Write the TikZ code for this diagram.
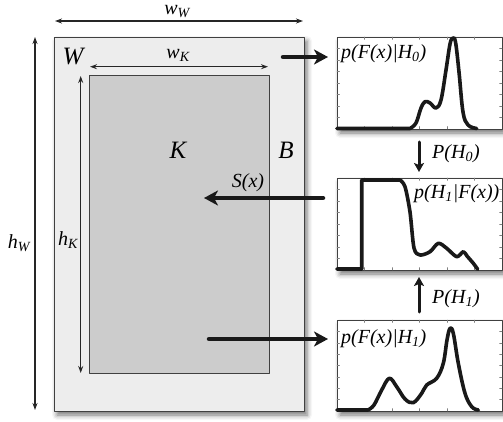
\documentclass[tikz,border=0pt]{standalone}
\usepackage{fontspec}
\setmainfont{Liberation Serif}
\usetikzlibrary{arrows.meta,calc,shadows.blur}

\begin{document}
\begin{tikzpicture}[x=1pt,y=-1pt,>=Stealth, line join=round, line cap=round,
		box/.style={draw=black!75,line width=0.9pt,inner sep=0pt,outer sep=0pt},
		shade/.style={blur shadow={shadow xshift=3pt,shadow yshift=-4pt,shadow blur radius=5pt,shadow opacity=55}},
		dimarrow/.style={line width=1.1pt,black!85,{Stealth[length=7pt,width=5pt]}-{Stealth[length=7pt,width=5pt]}},
		bigarrow/.style={line width=4.5pt,black!90,-{Stealth[length=14pt,width=15pt,inset=4pt]}},
		smallarrow/.style={line width=3pt,black!90,-{Stealth[length=9pt,width=10pt,inset=2pt]}},
		curve/.style={line width=3.6pt,black!90},
		lab/.style={font=\fontsize{20}{20}\selectfont\itshape,inner sep=0pt},
		big/.style={font=\fontsize{25}{25}\selectfont\itshape,inner sep=0pt}]
	\useasboundingbox (0,0) rectangle (503,422);
	% window W and kernel K
	\node[box,shade,fill=black!7,minimum width=250pt,minimum height=374pt] (W) at (179,224) {};
	\node[box,fill=black!20,minimum width=180pt,minimum height=298pt] (K) at (179,224) {};
	% the three plots
	\node[box,shade,fill=white,minimum width=165pt,minimum height=92pt] (P0) at (419.5,83) {};
	\node[box,shade,fill=white,minimum width=165pt,minimum height=92pt] (PK) at (419.5,224) {};
	\node[box,shade,fill=white,minimum width=165pt,minimum height=91pt] (P1) at (419.5,365.5) {};
	% ticks
	\foreach \p in {P0,PK,P1}{
		\foreach \t in {1,...,5}{
			\draw[black!50,line width=0.5pt] ($(\p.south west)!\t/6!(\p.south east)$) -- ++(0,-2.5);
			\draw[black!50,line width=0.5pt] ($(\p.north west)!\t/6!(\p.north east)$) -- ++(0,2.5);}
		\foreach \t in {1,...,7}{
			\draw[black!50,line width=0.5pt] ($(\p.north west)!\t/8!(\p.south west)$) -- ++(2.5,0);
			\draw[black!50,line width=0.5pt] ($(\p.north east)!\t/8!(\p.south east)$) -- ++(-2.5,0);}
	}
	% curves
	\draw[curve] (337,128.5) -- (410,128.5) plot[smooth,tension=0.6] coordinates {(410,128.5) (416,123) (421,108) (425,101.7) (430,103) (436,108) (441,100) (446,70) (450,44) (452.7,38.3) (455.5,42) (459,72) (463,112) (468,125) (476.7,128.5)};
	\draw[curve] (337,269) -- (361.7,269) -- (361.7,180) -- (400,180) plot[smooth,tension=0.5] coordinates {(400,180) (405,186.7) (410,212) (414,248) (420,255) (430,251.7) (438.3,243.3) (446.7,248.3) (456.7,256.7) (463.3,251.7) (467,256) (473.3,263.3) (477.7,269.3)};
	\draw[curve] (337,410) -- (368,410) plot[smooth,tension=0.6] coordinates {(368,410) (374,405) (381.7,390) (389.3,378.3) (396.7,386.7) (405,399) (413.3,402.7) (421.7,393.3) (426.7,385) (436.7,378.3) (443.3,363.3) (447,340) (450,328.3) (453.3,333.3) (458.3,363.3) (465,393.3) (471.7,406.7) (478.3,410)};
	% labels in plots
	\node[lab,anchor=west] (L0) at (341,54) {p(F(x)|H\textsubscript{0})};
	\node[lab,anchor=west] (LK) at (414,194) {p(H\textsubscript{1}|F(x))};
	\node[lab,anchor=west] (L1) at (341,339) {p(F(x)|H\textsubscript{1})};
	% dimensions
	\coordinate (wW1) at (55,21); \coordinate (wW2) at (303,21);
	\coordinate (wK1) at (90,66.7); \coordinate (wK2) at (268,66.7);
	\coordinate (hW1) at (35,37); \coordinate (hW2) at (35,410);
	\coordinate (hK1) at (80.7,76); \coordinate (hK2) at (80.7,373);
	\draw[dimarrow] (wW1) -- (wW2);
	\draw[dimarrow] (wK1) -- (wK2);
	\draw[dimarrow] (hW1) -- (hW2);
	\draw[dimarrow] (hK1) -- (hK2);
	\node[lab] (lwW) at (177,11.5) {w\textsubscript{W}};
	\node[lab] (lwK) at (178,55) {w\textsubscript{K}};
	\node[lab] (lhW) at (19,243) {h\textsubscript{W}};
	\node[lab] (lhK) at (68,240) {h\textsubscript{K}};
	\node[big] (lW) at (73,57) {W};
	\node[big] (lK) at (178,150) {K};
	\node[big] (lB) at (286,150) {B};
	% arrows between window and plots
	\coordinate (a0) at (283,57);
	\coordinate (aK) at (323,198);
	\coordinate (sK) at (204,198);
	\coordinate (a1) at (209,339);
	\draw[bigarrow] (a0) -- ($(P0.west|-a0)+(-9,0)$);
	\draw[bigarrow] (aK) -- (sK);
	\draw[bigarrow] (a1) -- ($(P1.west|-a1)+(-9,0)$);
	\node[lab] (lS) at (248,183) {S(x)};
	% prior probabilities
	\coordinate (p0a) at (419,142); \coordinate (p0b) at (419,172);
	\coordinate (p1a) at (419,312); \coordinate (p1b) at (419,277);
	\draw[smallarrow] (p0a) -- (p0b);
	\draw[smallarrow] (p1a) -- (p1b);
	\node[lab,anchor=west] (lP0) at (432,154) {P(H\textsubscript{0})};
	\node[lab,anchor=west] (lP1) at (432,299) {P(H\textsubscript{1})};
\end{tikzpicture}
\end{document}
